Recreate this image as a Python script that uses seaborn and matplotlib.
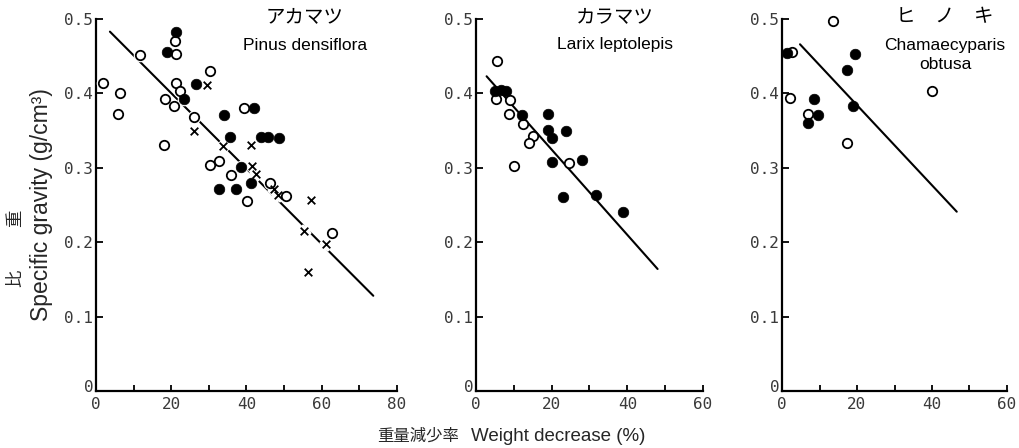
import matplotlib
matplotlib.use("Agg")
import matplotlib.pyplot as plt
import matplotlib.transforms as mtransforms
import numpy as np
import pandas as pd
import seaborn as sns

# ---------------- data ----------------
# Panel 1: アカマツ Pinus densiflora
p1_open_x = [1.8, 6.4, 5.9, 11.7, 18.1, 18.4, 21.0, 21.2, 21.2, 20.8, 22.3, 26.1,
             30.3, 30.3, 32.8, 35.9, 39.4, 40.2, 46.3, 50.5, 62.7]
p1_open_y = [0.414, 0.401, 0.372, 0.452, 0.331, 0.392, 0.471, 0.453, 0.414, 0.383,
             0.403, 0.368, 0.430, 0.304, 0.309, 0.290, 0.381, 0.255, 0.280, 0.262, 0.213]
p1_fill_x = [21.3, 19.0, 26.6, 23.4, 34.0, 42.1, 35.5, 43.9, 45.7, 48.7, 38.5, 32.8, 37.2, 41.1]
p1_fill_y = [0.483, 0.455, 0.412, 0.393, 0.371, 0.380, 0.341, 0.341, 0.342, 0.340,
             0.301, 0.272, 0.271, 0.280]
p1_cross_x = [29.6, 26.1, 33.7, 41.1, 41.4, 42.6, 47.3, 48.3, 57.1, 55.4, 61.1, 56.3]
p1_cross_y = [0.411, 0.349, 0.329, 0.331, 0.302, 0.292, 0.272, 0.263, 0.257, 0.215, 0.198, 0.160]
p1_line_x = [3.7, 73.7]
p1_line_y = [0.483, 0.128]

# Panel 2: カラマツ Larix leptolepis
p2_open_x = [5.5, 5.3, 9.0, 8.7, 12.4, 15.0, 14.0, 10.1, 24.7]
p2_open_y = [0.443, 0.392, 0.391, 0.372, 0.359, 0.343, 0.333, 0.303, 0.307]
p2_fill_x = [5.0, 6.5, 7.8, 12.1, 18.9, 19.1, 23.7, 20.2, 20.0, 28.1, 23.1, 31.7, 38.8]
p2_fill_y = [0.403, 0.404, 0.403, 0.371, 0.372, 0.351, 0.350, 0.340, 0.308, 0.310,
             0.261, 0.263, 0.240]
p2_line_x = [2.8, 48.0]
p2_line_y = [0.423, 0.164]

# Panel 3: ヒノキ Chamaecyparis obtusa
p3_open_x = [13.7, 2.6, 2.1, 7.0, 17.3, 39.9]
p3_open_y = [0.497, 0.455, 0.394, 0.372, 0.334, 0.403]
p3_fill_x = [1.2, 8.4, 9.5, 7.0, 17.3, 19.5, 18.8]
p3_fill_y = [0.454, 0.392, 0.371, 0.360, 0.432, 0.453, 0.383]
p3_line_x = [4.8, 46.6]
p3_line_y = [0.466, 0.241]

y_ticks = [0, 0.1, 0.2, 0.3, 0.4, 0.5]
y_tick_labels = ["0", "0.1", "0.2", "0.3", "0.4", "0.5"]

titles_jp = ["アカマツ", "カラマツ", "ヒ　ノ　キ"]
titles_en = ["Pinus densiflora", "Larix leptolepis", "Chamaecyparis\nobtusa"]

# ---------------- style ----------------
sns.set_theme(style="white")
plt.rcParams["font.family"] = ["Liberation Sans", "Noto Sans CJK JP", "DejaVu Sans"]
JP = ["Noto Sans CJK JP", "DejaVu Sans"]
TICKFONT = "DejaVu Sans Mono"

W, H = 1020, 448
fig = plt.figure(figsize=(W / 100, H / 100), dpi=100)
fig.patch.set_facecolor("white")

def fx(px):
    return px / W

def fy(py):
    return 1 - py / H

y0_px, y1_px = 391, 19
axes_spec = [
    (96, 301, 80, [0, 20, 40, 60, 80], [10, 30, 50, 70]),
    (476, 227, 60, [0, 20, 40, 60], [10, 30, 50]),
    (782, 225, 60, [0, 20, 40, 60], [10, 30, 50]),
]

panels = [
    dict(open=(p1_open_x, p1_open_y), fill=(p1_fill_x, p1_fill_y),
         cross=(p1_cross_x, p1_cross_y), line=(p1_line_x, p1_line_y), halo=True),
    dict(open=(p2_open_x, p2_open_y), fill=(p2_fill_x, p2_fill_y),
         cross=None, line=(p2_line_x, p2_line_y), halo=False),
    dict(open=(p3_open_x, p3_open_y), fill=(p3_fill_x, p3_fill_y),
         cross=None, line=(p3_line_x, p3_line_y), halo=False),
]

title_centers = [305, 615, 945]

for i, ((left, width, xmax, xt, xmt), pdata) in enumerate(zip(axes_spec, panels)):
    ax = fig.add_axes([fx(left), fy(y0_px), width / W, (y0_px - y1_px) / H])
    ax.set_facecolor("white")

    lx, ly = pdata["line"]
    sns.lineplot(x=lx, y=ly, ax=ax, color="black", linewidth=1.5, zorder=2)

    ox, oy = pdata["open"]
    fxs, fys = pdata["fill"]
    if pdata["halo"]:
        sns.scatterplot(x=ox + fxs, y=oy + fys, ax=ax, s=95, color="white",
                        edgecolor="white", linewidth=0, zorder=3)
        if pdata["cross"] is not None:
            cx, cy = pdata["cross"]
            sns.scatterplot(x=cx, y=cy, ax=ax, marker="x", s=40, color="white",
                            linewidth=6, zorder=3)
    sns.scatterplot(x=ox, y=oy, ax=ax, s=46, facecolor="white", edgecolor="black",
                    linewidth=1.3, zorder=4)
    sns.scatterplot(x=fxs, y=fys, ax=ax, s=58, color="black", edgecolor="black",
                    linewidth=0.5, zorder=4)
    if pdata["cross"] is not None:
        cx, cy = pdata["cross"]
        sns.scatterplot(x=cx, y=cy, ax=ax, marker="x", s=30, color="black",
                        linewidth=1.3, zorder=5)

    for c in ax.collections:
        c.set_clip_on(False)

    ax.set_xlim(0, xmax)
    ax.set_ylim(0, 0.5)
    ax.set_xticks(xt)
    ax.set_xticklabels([str(v) for v in xt], family=TICKFONT)
    ax.set_xticks(xmt, minor=True)
    ax.set_yticks(y_ticks)
    ax.set_yticklabels(y_tick_labels, family=TICKFONT)
    ax.tick_params(axis="x", which="both", direction="in", length=4, width=1.3,
                   color="black", labelsize=11.5, labelcolor="#3a3a3a", pad=4,
                   bottom=True)
    ax.tick_params(axis="y", which="major", direction="in", length=5, width=1.3,
                   color="black", labelsize=11.5, labelcolor="#3a3a3a", pad=2,
                   left=True)
    # lift the y "0" label slightly so it sits beside the x "0" label
    lab0 = ax.get_yticklabels()[0]
    lab0.set_transform(lab0.get_transform() +
                       mtransforms.ScaledTranslation(0, 5 / 100, fig.dpi_scale_trans))
    for s in ["top", "right"]:
        ax.spines[s].set_visible(False)
    for s in ["left", "bottom"]:
        ax.spines[s].set_visible(True)
        ax.spines[s].set_color("black")
        ax.spines[s].set_linewidth(1.6)
    ax.set_xlabel("")
    ax.set_ylabel("")
    ax.grid(False)

    cx_px = title_centers[i]
    fig.text(fx(cx_px), fy(17), titles_jp[i], family=JP, fontsize=14,
             ha="center", va="center", color="black")
    fig.text(fx(cx_px), fy(45) if i < 2 else fy(55), titles_en[i], fontsize=12.5,
             ha="center", va="center", color="black", linespacing=1.3)

# axis labels
fig.text(fx(15), fy(278), "比", family=JP, fontsize=12.5, rotation=90,
         ha="center", va="center")
fig.text(fx(15), fy(218), "重", family=JP, fontsize=12.5, rotation=90,
         ha="center", va="center")
fig.text(fx(42), fy(205), "Specific gravity (g/cm³)", fontsize=16.5, rotation=90,
         ha="center", va="center")
fig.text(fx(418), fy(436), "重量減少率", family=JP, fontsize=11.8,
         ha="center", va="center")
fig.text(fx(558), fy(436), "Weight decrease (%)", fontsize=13.5,
         ha="center", va="center")

fig.savefig("out.png", dpi=100, facecolor="white")
